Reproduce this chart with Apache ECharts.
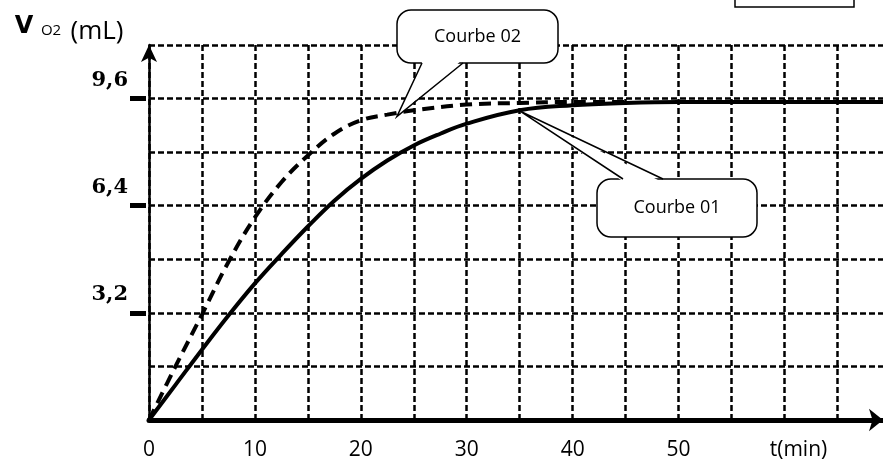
<!DOCTYPE html>
<html>
<head>
<meta charset="utf-8">
<script src="https://cdn.jsdelivr.net/npm/echarts@6/dist/echarts.min.js"></script>
<style>
  html, body { margin: 0; padding: 0; background: #fff; }
  #chart { width: 883px; height: 461px; }
</style>
</head>
<body>
<div id="chart"></div>
<script>
// courbe 01 (trait plein)
const time01 = [0, 2.5, 5, 7.5, 10, 12.5, 15, 17.5, 20, 22.5, 25, 27.5, 30, 35, 40, 45, 50, 55, 60, 65, 69.3]
const courbe01 = [0, 1.05, 2.1, 3.12, 4.08, 4.95, 5.78, 6.55, 7.2, 7.75, 8.2, 8.55, 8.85, 9.25, 9.4, 9.47, 9.5, 9.5, 9.5, 9.5, 9.5]
// courbe 02 (pointillés)
const time02 = [0, 2.5, 5, 7.5, 10, 12.5, 15, 17.5, 20, 22.5, 25, 30, 35, 40, 45]
const courbe02 = [0, 1.6, 3.15, 4.72, 6.05, 7.1, 7.9, 8.55, 8.95, 9.12, 9.25, 9.42, 9.47, 9.5, 9.5]

const xTickValues = [0, 10, 20, 30, 40, 50, 60]
const xTickLabels = ['0', '10', '20', '30', '40', '50', 't(min)']
const yTickValues = [3.2, 6.4, 9.6]
const yTickLabels = ['3,2', '6,4', '9,6']

// points visés par les bulles
const tip01 = [35, 9.23]
const tip02 = [23.4, 9.06]

const myChart = echarts.init(document.getElementById('chart'))

const gridDash = { color: '#000', width: 2.5, type: [6, 3] }

const option = {
  animation: false,
  grid: { left: 149, right: 0, top: 45, bottom: 40 },
  xAxis: {
    type: 'value',
    min: 0,
    max: 69.3,
    interval: 5,
    axisLine: {
      show: true,
      symbol: ['none', 'arrow'],
      symbolSize: [17, 14],
      lineStyle: { color: '#000', width: 5 },
    },
    axisTick: { show: false },
    splitLine: { show: true, showMaxLine: false, lineStyle: gridDash },
    axisLabel: {
      customValues: xTickValues,
      margin: 20,
      color: '#000',
      fontFamily: 'Open Sans',
      fontSize: 21,
      formatter: (v) => {
        const i = xTickValues.indexOf(v)
        if (i === xTickValues.length - 1) return '{u|' + xTickLabels[i] + '}'
        return i >= 0 ? xTickLabels[i] : ''
      },
      rich: {
        u: { fontFamily: 'Open Sans', fontSize: 21, color: '#000', padding: [0, 0, 0, 28] },
      },
    },
  },
  yAxis: [
    {
      // quadrillage, flèche et graduations écrites
      type: 'value',
      position: 'left',
      min: 0,
      max: 11.2,
      interval: 1.6,
      offset: 3,
      axisLine: {
        show: true,
        symbol: ['none', 'arrow'],
        symbolSize: [12, 17],
        lineStyle: { color: '#000', width: 2.5 },
      },
      axisTick: { show: false },
      splitLine: { show: true, showMinLine: false, lineStyle: gridDash },
      axisLabel: {
        customValues: yTickValues,
        margin: 18,
        color: '#000',
        fontFamily: 'DejaVu Serif',
        fontWeight: 'bold',
        fontSize: 21,
        verticalAlign: 'bottom',
        padding: [0, 0, 8, 0],
        formatter: (v) => {
          const i = yTickValues.findIndex((y) => Math.abs(y - v) < 1e-6)
          return i >= 0 ? yTickLabels[i] : ''
        },
      },
    },
    {
      // petits traits épais sur l'axe
      type: 'value',
      position: 'left',
      min: 0,
      max: 11.2,
      offset: 3,
      axisLine: { show: false },
      axisTick: {
        show: true,
        customValues: yTickValues,
        length: 16,
        lineStyle: { color: '#000', width: 5 },
      },
      splitLine: { show: false },
      axisLabel: { show: false },
    },
  ],
  series: [
    {
      name: 'Courbe 01',
      type: 'line',
      data: time01.map((t, i) => [t, courbe01[i]]),
      smooth: 0.4,
      showSymbol: false,
      lineStyle: { color: '#000', width: 4 },
      z: 5,
    },
    {
      name: 'Courbe 02',
      type: 'line',
      data: time02.map((t, i) => [t, courbe02[i]]),
      smooth: 0.4,
      showSymbol: false,
      lineStyle: { color: '#000', width: 4, type: [12, 7] },
      z: 4,
    },
  ],
}

myChart.setOption(option)

// bulle : rectangle arrondi + queue vers la courbe
const bubble = (box, base, tip, label) => {
  const [x, y, w, h] = box
  const edgeY = base[2]
  const inner = edgeY === y ? y + 3 : y + h - 3
  return [
    {
      type: 'rect',
      shape: { x, y, width: w, height: h, r: 14 },
      style: { fill: '#fff', stroke: '#000', lineWidth: 1.5 },
      z: 10,
    },
    {
      type: 'polygon',
      shape: { points: [[base[0] + 1, inner], [base[1] - 1, inner], tip] },
      style: { fill: '#fff' },
      z: 11,
    },
    {
      type: 'polyline',
      shape: { points: [[base[0], edgeY], tip, [base[1], edgeY]] },
      style: { stroke: '#000', lineWidth: 1.5, fill: null },
      z: 12,
    },
    {
      type: 'text',
      x: x + w / 2,
      y: y + h / 2,
      style: {
        text: label,
        fontFamily: 'Open Sans',
        fontSize: 18,
        fill: '#000',
        align: 'center',
        verticalAlign: 'middle',
      },
      z: 13,
    },
  ]
}

const p01 = myChart.convertToPixel({ gridIndex: 0 }, tip01)
const p02 = myChart.convertToPixel({ gridIndex: 0 }, tip02)

myChart.setOption({
  graphic: [
    ...bubble([397, 10, 161, 53], [422, 463, 63], p02, 'Courbe 02'),
    ...bubble([597, 179, 160, 58], [623, 663, 179], p01, 'Courbe 01'),
    {
      type: 'rect',
      shape: { x: 735, y: -10, width: 119, height: 17 },
      style: { fill: 'none', stroke: '#000', lineWidth: 1.5 },
    },
    {
      type: 'text',
      x: 24,
      y: 27,
      style: { text: 'V', fontFamily: 'DejaVu Sans', fontWeight: 'bold', fontSize: 24, fill: '#000', align: 'center', verticalAlign: 'middle' },
    },
    {
      type: 'text',
      x: 51,
      y: 31,
      style: { text: 'O2', fontFamily: 'Open Sans', fontSize: 15, fill: '#000', align: 'center', verticalAlign: 'middle' },
    },
    {
      type: 'text',
      x: 97,
      y: 32,
      style: { text: '(mL)', fontFamily: 'Open Sans', fontSize: 26, fill: '#000', align: 'center', verticalAlign: 'middle' },
    },
  ],
})

window.addEventListener('resize', () => myChart.resize())
</script>
</body>
</html>
